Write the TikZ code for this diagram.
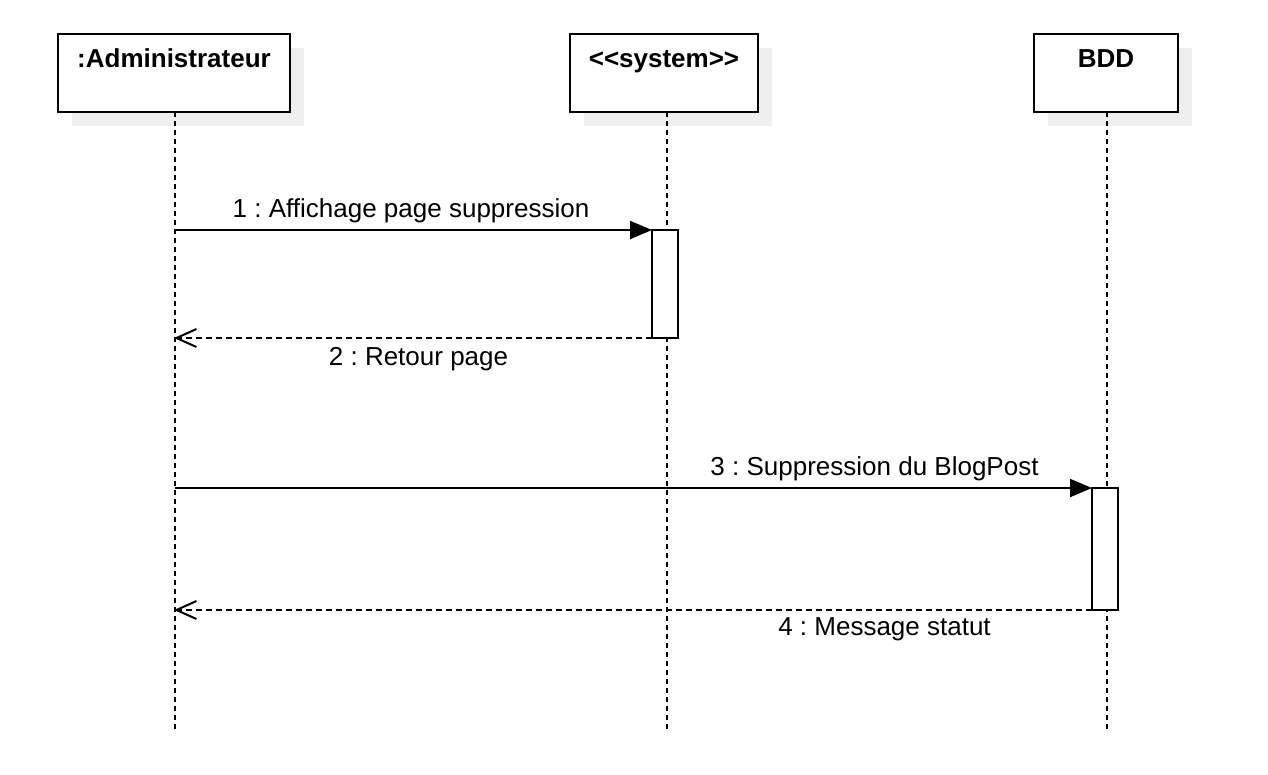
\documentclass[tikz,border=0pt]{standalone}
\usepackage{fontspec}
\setmainfont{Liberation Sans}
\usetikzlibrary{arrows.meta}
\definecolor{shadowgray}{HTML}{EFEFEF}
\frenchspacing
\begin{document}
\begin{tikzpicture}[x=1pt,y=-1pt,
  objbox/.style={draw=black,line width=2pt,fill=white},
  lifeline/.style={draw=black,line width=1.5pt,dash pattern=on 5pt off 4pt},
  actbox/.style={draw=black,line width=2pt,fill=white},
  callmsg/.style={draw=black,line width=2pt,-{Triangle[length=22pt,width=18pt]}},
  retmsg/.style={draw=black,line width=2pt,dash pattern=on 6pt off 4pt,-{Straight Barb[length=20pt,width=18pt,line width=2pt]}},
  title/.style={font=\fontsize{26}{31}\selectfont\bfseries,anchor=base},
  msglabel/.style={font=\fontsize{26}{31}\selectfont,anchor=base}]
\useasboundingbox (0,0) rectangle (1268,774);
% shadows
\fill[shadowgray] (72,48) rectangle (304,126);
\fill[shadowgray] (584,48) rectangle (772,126);
\fill[shadowgray] (1048,48) rectangle (1192,126);
% lifelines
\coordinate (aTop) at (175,112);
\coordinate (aBot) at (175,732);
\coordinate (sTop) at (667,112);
\coordinate (sBot) at (667,732);
\coordinate (bTop) at (1107,112);
\coordinate (bBot) at (1107,732);
\draw[lifeline] (aTop) -- (aBot);
\draw[lifeline] (sTop) -- (sBot);
\draw[lifeline] (bTop) -- (bBot);
% boxes
\draw[objbox] (58,34) rectangle (290,112);
\draw[objbox] (570,34) rectangle (758,112);
\draw[objbox] (1034,34) rectangle (1178,112);
\node[title] (tA) at (174,67) {:Administrateur};
\node[title] (tS) at (664,67) {<{}<system>{}>};
\node[title] (tB) at (1106,67) {BDD};
% activations
\draw[actbox] (652,230) rectangle (678,338);
\draw[actbox] (1092,488) rectangle (1118,610);
\coordinate (m1s) at (175,230);
\coordinate (m1e) at (652,230);
\coordinate (m2s) at (652,338);
\coordinate (m2e) at (174,338);
\coordinate (m3s) at (175,488);
\coordinate (m3e) at (1092,488);
\coordinate (m4s) at (1092,610);
\coordinate (m4e) at (174,610);
\draw[callmsg] (m1s) -- (m1e);
\draw[retmsg] (m2s) -- (m2e);
\draw[callmsg] (m3s) -- (m3e);
\draw[retmsg] (m4s) -- (m4e);
\node[msglabel] (l1) at (411,217) {1 : Affichage page suppression};
\node[msglabel] (l2) at (418.5,365) {2 : Retour page};
\node[msglabel] (l3) at (874.5,475) {3 : Suppression du BlogPost};
\node[msglabel] (l4) at (884.5,635) {4 : Message statut};
\end{tikzpicture}
\end{document}
